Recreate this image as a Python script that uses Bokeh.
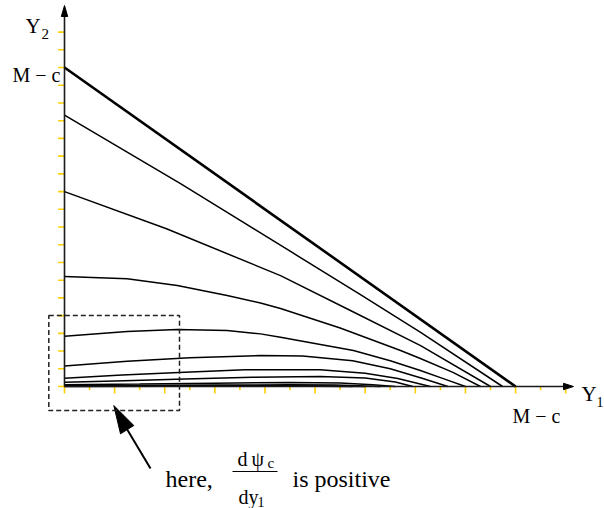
from bokeh.plotting import figure
from bokeh.models import Label, BoxAnnotation
from bokeh.embed import file_html
from bokeh.resources import INLINE

# ---------------- data (axis units) ----------------
M_C = 18.0
x_ticks = list(range(0, 21))
y_ticks = list(range(0, 21))

thick_x = [0.0, 18.0]
thick_y = [18.0, 0.0]

curve_b_x = [0.0, 4.63, 9.02, 11.81, 14.21, 17.48]
curve_b_y = [15.31, 11.45, 7.62, 5.18, 3.06, 0.0]

curve_c_x = [0.0, 4.07, 8.62, 11.41, 14.21, 17.0]
curve_c_y = [11.0, 8.9, 6.26, 4.29, 2.31, 0.0]

curve_d_x = [0.0, 2.5, 4.5, 6.49, 7.82, 8.62, 11.0, 13.41, 14.2, 15.5, 16.6]
curve_d_y = [6.21, 6.08, 5.7, 5.14, 4.71, 4.4, 3.3, 2.03, 1.58, 0.8, 0.0]

curve_e_x = [0.0, 2.5, 4.5, 6.49, 7.82, 8.62, 11.53, 13.0, 14.2, 15.2, 16.0]
curve_e_y = [2.84, 3.10, 3.22, 3.16, 2.97, 2.78, 2.03, 1.45, 0.9, 0.4, 0.0]

curve_f_x = [0.0, 2.5, 5.0, 7.82, 9.5, 11.5, 13.0, 14.3, 15.3]
curve_f_y = [1.15, 1.42, 1.62, 1.75, 1.72, 1.45, 1.0, 0.45, 0.0]

curve_g_x = [0.0, 2.3, 4.8, 7.2, 10.2, 12.0, 13.3, 14.6]
curve_g_y = [0.47, 0.65, 0.81, 0.95, 0.95, 0.75, 0.45, 0.0]

curve_h_x = [0.0, 2.4, 4.8, 7.5, 10.2, 12.0, 13.2, 13.9]
curve_h_y = [0.24, 0.33, 0.43, 0.52, 0.56, 0.48, 0.25, 0.0]

curve_i_x = [0.0, 3.0, 6.0, 9.0, 11.0, 12.3, 13.2]
curve_i_y = [0.10, 0.14, 0.19, 0.22, 0.20, 0.10, 0.0]

curve_j_x = [0.0, 3.0, 6.0, 9.0, 10.8, 12.0, 12.6]
curve_j_y = [0.04, 0.06, 0.08, 0.10, 0.08, 0.03, 0.0]

curve_k_x = [0.0, 4.0, 8.0, 10.5, 12.0]
curve_k_y = [0.015, 0.025, 0.04, 0.03, 0.0]

curve_l_x = [0.0, 4.0, 8.0, 10.2, 11.5]
curve_l_y = [0.006, 0.01, 0.016, 0.012, 0.0]

thin_curves = [(curve_b_x, curve_b_y), (curve_c_x, curve_c_y), (curve_d_x, curve_d_y),
               (curve_e_x, curve_e_y), (curve_f_x, curve_f_y), (curve_g_x, curve_g_y),
               (curve_h_x, curve_h_y), (curve_i_x, curve_i_y), (curve_j_x, curve_j_y),
               (curve_k_x, curve_k_y), (curve_l_x, curve_l_y)]

# ---------------- layout helpers (canvas pixels -> axis units) ----------------
OX, OY = 64.0, 386.0      # canvas pixel of the origin
SX, SY = 25.06, 17.72     # pixels per unit
W, H = 604, 508

def dx(px):
    return (px - OX) / SX

def dy(py):
    return (OY - py) / SY

p = figure(width=W, height=H, x_range=(dx(0), dx(W)), y_range=(dy(H), dy(0)),
           output_backend="svg", toolbar_location=None, x_axis_type=None, y_axis_type=None,
           min_border=0, outline_line_color=None)
p.background_fill_color = "white"
p.border_fill_color = "white"

FONT = "Liberation Serif"
TICK_COLOR = "#FFD000"
AXIS_COLOR = "#1a1a1a"

# ticks
long_len = 7.0 / SY
short_len = 3.5 / SY
xt_len = [long_len if t % 2 == 0 else short_len for t in x_ticks]
p.segment(x0=x_ticks, y0=[0] * len(x_ticks), x1=x_ticks, y1=[-l for l in xt_len],
          line_color=TICK_COLOR, line_width=1.6)
yl = 6.5 / SX
p.segment(x0=[0] * len(y_ticks), y0=y_ticks, x1=[-yl] * len(y_ticks), y1=y_ticks,
          line_color=TICK_COLOR, line_width=1.6)

# curves
for cx, cy in thin_curves:
    p.line(cx, cy, line_color="black", line_width=1.5)
p.line(thick_x, thick_y, line_color="black", line_width=2.6)

# axes with arrow heads
y_tip, y_base = dy(5), dy(16)
x_tip, x_base = dx(573), dx(563)
p.segment(x0=[0, 0], y0=[0, 0], x1=[0, x_base], y1=[y_base, 0], line_color=AXIS_COLOR, line_width=1.6)
hw = 3.2
p.patch([0, -hw / SX, hw / SX], [y_tip, y_base, y_base], fill_color="black", line_color="black")
p.patch([x_tip, x_base, x_base], [0, hw / SY, -hw / SY], fill_color="black", line_color="black")

# dashed box
p.add_layout(BoxAnnotation(left=dx(48.3), right=dx(179), top=dy(315), bottom=dy(410),
                           fill_alpha=0, line_color="#222222", line_alpha=1.0,
                           line_width=1.5, line_dash="5 3"))

# annotation arrow
p.line([dx(150), dx(126.7)], [dy(468), dy(429)], line_color="black", line_width=2)
p.patch([dx(113.3), dx(133.3), dx(120)], [dy(405), dy(425), dy(433.3)],
        fill_color="black", line_color="black")

def lab(text, px, py, size, align="left"):
    p.add_layout(Label(x=dx(px), y=dy(py), text=text, text_font=FONT, text_font_size=size,
                       text_baseline="alphabetic", text_align=align, text_color="black"))

# axis labels
lab("Y", 25, 25, "21px")
lab("2", 41, 33, "15px")
lab("Y", 581, 393, "21px")
lab("1", 596, 401, "14px")
lab("M \u2212 c", 12, 74, "20px")
lab("M \u2212 c", 512, 415, "20px")

# annotation text
lab("here,", 165, 478, "24px")
lab("d\u2009\u03c8", 237, 458, "20px")
lab("c", 267, 462, "15px")
p.line([dx(232), dx(277)], [dy(471), dy(471)], line_color="black", line_width=1.2)
lab("dy", 238, 496, "20px")
lab("1", 257, 501, "14px")
lab("is positive", 292, 478, "24px")

open("out.html", "w").write(file_html(p, INLINE))
